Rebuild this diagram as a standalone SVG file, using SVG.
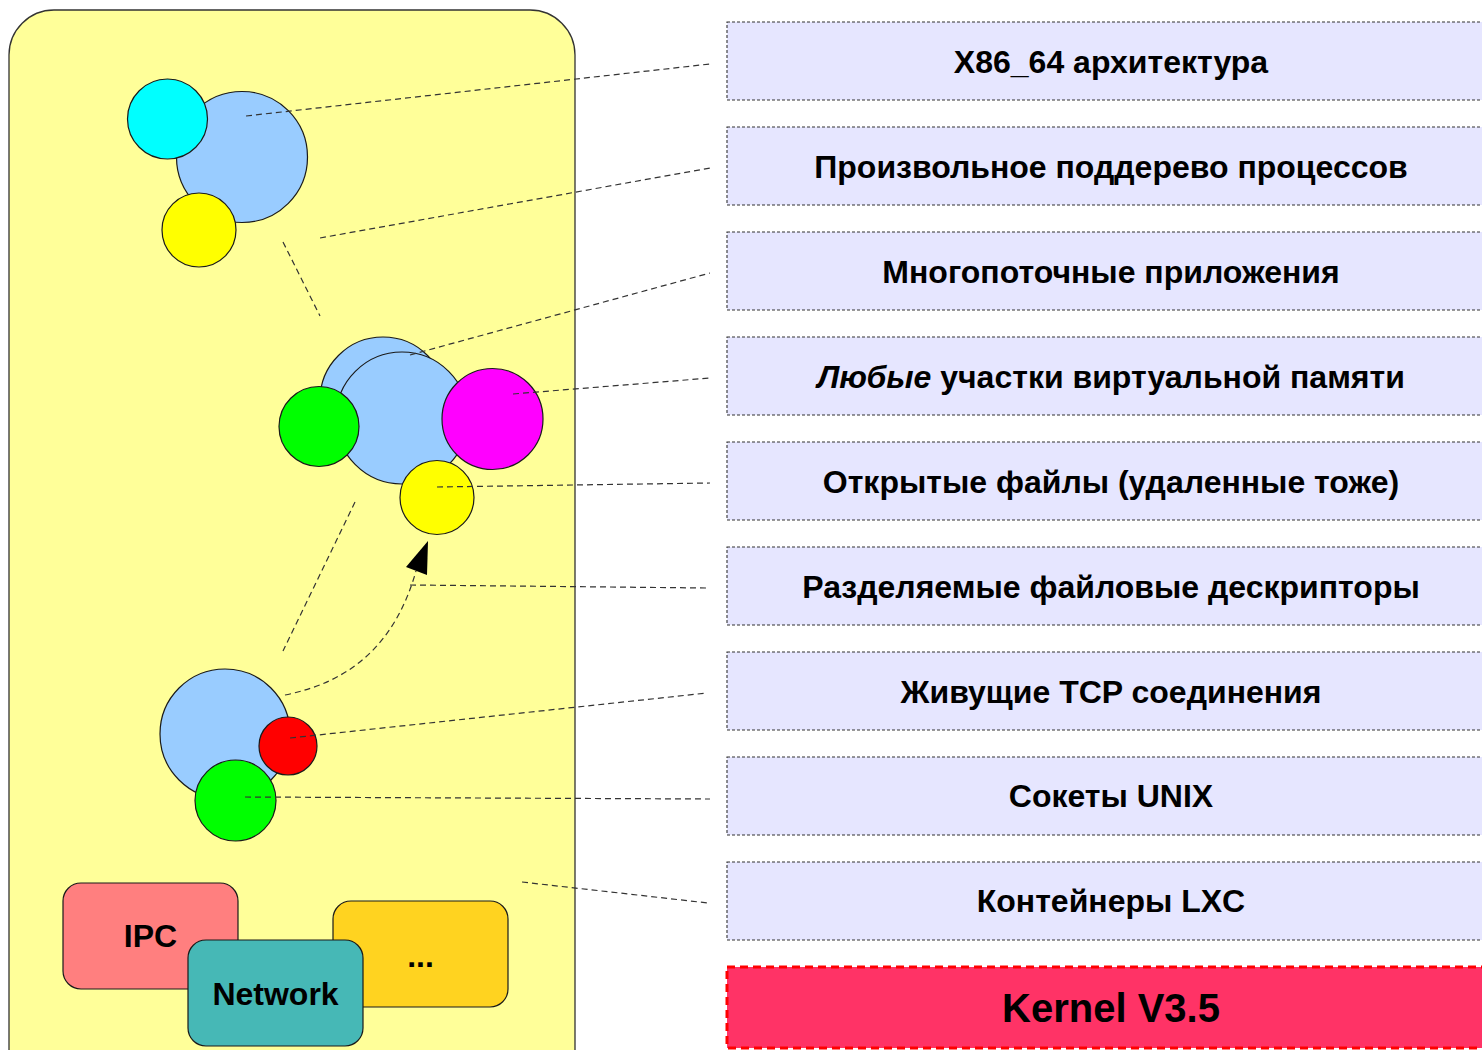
<svg xmlns="http://www.w3.org/2000/svg" width="1482" height="1050" viewBox="0 0 1482 1050">
  <style>
    .cir { stroke: #1a1a1a; stroke-width: 1.2; }
    .box { stroke: #1a1a1a; stroke-width: 1.2; }
    .feat { fill: #e6e6ff; stroke: #333; stroke-width: 1.1; stroke-dasharray: 3 2; }
    .ftxt { font-family: "Liberation Sans", Arial, sans-serif; font-weight: bold; font-size: 32px; fill: #000; text-anchor: middle; }
    .big { font-size: 40px; }
    .conn { stroke: #333; stroke-width: 1.2; stroke-dasharray: 6 4; fill: none; }
  </style>

  <!-- container -->
  <g id="container">
    <rect x="9" y="10" width="566" height="1090" rx="45" ry="45" fill="#ffff99" stroke="#333" stroke-width="1.3"/>
  </g>

  <!-- process tree, top -->
  <g id="proc-top">
    <circle class="cir" cx="242" cy="157" r="65.5" fill="#99ccff"/>
    <circle class="cir" cx="167.5" cy="119" r="40" fill="#00ffff"/>
    <circle class="cir" cx="199" cy="230" r="37" fill="#ffff00"/>
  </g>

  <!-- process tree, middle -->
  <g id="proc-mid">
    <circle class="cir" cx="383" cy="400" r="63" fill="#99ccff"/>
    <circle class="cir" cx="402" cy="418" r="66" fill="#99ccff"/>
    <circle class="cir" cx="319" cy="426.5" r="40" fill="#00ff00"/>
    <circle class="cir" cx="492.5" cy="419" r="50.5" fill="#ff00ff"/>
    <circle class="cir" cx="437" cy="497.5" r="37" fill="#ffff00"/>
  </g>

  <!-- process tree, bottom -->
  <g id="proc-bottom">
    <circle class="cir" cx="225" cy="734" r="65" fill="#99ccff"/>
    <circle class="cir" cx="288" cy="746" r="29" fill="#ff0000"/>
    <circle class="cir" cx="235.5" cy="800.5" r="40.5" fill="#00ff00"/>
  </g>

  <!-- namespaces -->
  <g id="ns-ipc">
    <rect class="box" x="63" y="883" width="175" height="106" rx="18" fill="#ff7f7f"/>
    <text class="ftxt" x="150.5" y="947">IPC</text>
  </g>
  <g id="ns-other">
    <rect class="box" x="333" y="901" width="175" height="106" rx="18" fill="#ffd320"/>
    <text class="ftxt" x="420.5" y="967">...</text>
  </g>
  <g id="ns-network">
    <rect class="box" x="188" y="940" width="175" height="106" rx="18" fill="#46b8b6"/>
    <text class="ftxt" x="275.5" y="1005">Network</text>
  </g>

  <!-- feature list -->
  <g id="f1"><rect class="feat" x="727" y="22" width="770" height="78"/><text class="ftxt" x="1111" y="73">X86_64 архитектура</text></g>
  <g id="f2"><rect class="feat" x="727" y="127" width="770" height="78"/><text class="ftxt" x="1111" y="178">Произвольное поддерево процессов</text></g>
  <g id="f3"><rect class="feat" x="727" y="232" width="770" height="78"/><text class="ftxt" x="1111" y="283">Многопоточные приложения</text></g>
  <g id="f4"><rect class="feat" x="727" y="337" width="770" height="78"/><text class="ftxt" x="1111" y="388"><tspan font-style="italic">Любые</tspan> участки виртуальной памяти</text></g>
  <g id="f5"><rect class="feat" x="727" y="442" width="770" height="78"/><text class="ftxt" x="1111" y="493">Открытые файлы (удаленные тоже)</text></g>
  <g id="f6"><rect class="feat" x="727" y="547" width="770" height="78"/><text class="ftxt" x="1111" y="598">Разделяемые файловые дескрипторы</text></g>
  <g id="f7"><rect class="feat" x="727" y="652" width="770" height="78"/><text class="ftxt" x="1111" y="703">Живущие TCP соединения</text></g>
  <g id="f8"><rect class="feat" x="727" y="757" width="770" height="78"/><text class="ftxt" x="1111" y="807">Сокеты UNIX</text></g>
  <g id="f9"><rect class="feat" x="727" y="862" width="770" height="78"/><text class="ftxt" x="1111" y="912">Контейнеры LXC</text></g>
  <g id="kernel">
    <rect x="727" y="967" width="770" height="81" fill="#ff3366" stroke="#ff0000" stroke-width="3" stroke-dasharray="8 5"/>
    <text class="ftxt big" x="1111" y="1022">Kernel V3.5</text>
  </g>

  <!-- connectors -->
  <g id="connectors">
    <line class="conn" x1="246" y1="116" x2="710" y2="64"/>
    <line class="conn" x1="320" y1="238" x2="710" y2="168"/>
    <line class="conn" x1="283" y1="242" x2="320" y2="316"/>
    <line class="conn" x1="410" y1="355" x2="710" y2="273"/>
    <line class="conn" x1="513" y1="394" x2="710" y2="378"/>
    <line class="conn" x1="437" y1="487" x2="710" y2="483"/>
    <line class="conn" x1="410" y1="585" x2="708" y2="588"/>
    <line class="conn" x1="355" y1="502" x2="283" y2="651"/>
    <path class="conn" d="M285,695 C350,682 395,645 416,571"/>
    <path d="M428,541 L406,567 L427,575 Z" fill="#000"/>
    <line class="conn" x1="290" y1="738" x2="707" y2="693"/>
    <line class="conn" x1="245" y1="797" x2="710" y2="799"/>
    <line class="conn" x1="522" y1="882" x2="708" y2="903"/>
  </g>
</svg>
